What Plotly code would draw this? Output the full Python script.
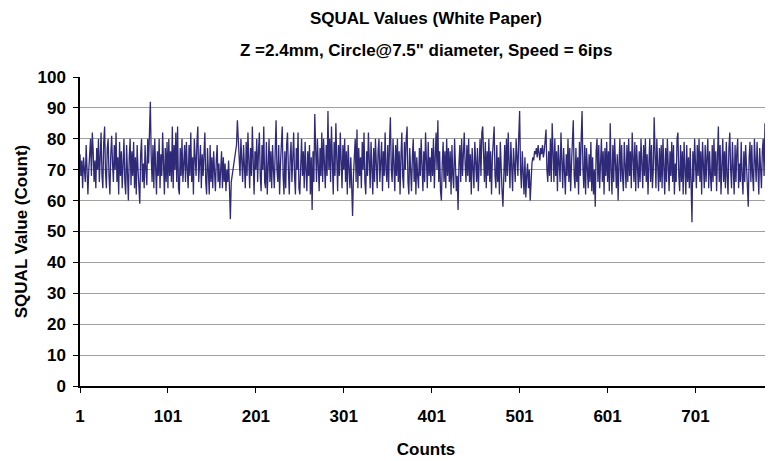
import plotly.graph_objects as go

# SQUAL readings, one per count (row = 20 counts)
squal = [
    75, 68, 73, 64, 74, 70, 66, 78, 72, 62, 70, 74, 80, 68, 82, 76, 66, 73, 64, 77,
    70, 80, 66, 74, 82, 68, 64, 79, 84, 69, 64, 77, 80, 68, 62, 75, 81, 72, 66, 78,
    70, 82, 66, 74, 62, 79, 68, 76, 64, 72, 80, 66, 62, 78, 70, 60, 74, 80, 65, 76,
    68, 79, 64, 74, 62, 78, 70, 63, 59, 75, 80, 66, 72, 64, 78, 70, 65, 80, 72, 82,
    92, 74, 66, 78, 64, 80, 70, 62, 76, 68, 80, 64, 75, 68, 82, 70, 62, 77, 66, 79,
    64, 80, 68, 76, 66, 84, 64, 78, 70, 82, 66, 84, 64, 62, 77, 68, 80, 66, 72, 78,
    66, 79, 70, 64, 78, 68, 82, 66, 74, 62, 80, 70, 68, 79, 84, 66, 72, 78, 64, 75,
    68, 80, 82, 66, 62, 77, 70, 62, 78, 66, 74, 64, 76, 68, 63, 73, 78, 66, 72, 64,
    70, 76, 64, 74, 66, 72, 63, 70, 66, 73, 64, 54, 66, 68, 70, 72, 74, 76, 78, 86,
    78, 74, 68, 80, 72, 66, 78, 70, 64, 79, 68, 82, 72, 64, 77, 68, 84, 70, 62, 76,
    70, 80, 66, 76, 82, 68, 63, 78, 70, 84, 66, 64, 79, 62, 72, 80, 66, 76, 64, 78,
    70, 64, 76, 86, 70, 66, 78, 62, 72, 80, 84, 68, 62, 76, 64, 78, 82, 70, 62, 74,
    79, 66, 74, 82, 68, 62, 77, 70, 82, 64, 62, 74, 80, 68, 76, 64, 79, 70, 63, 76,
    68, 78, 62, 74, 57, 76, 66, 88, 78, 66, 80, 70, 63, 77, 68, 82, 66, 80, 72, 64,
    78, 68, 89, 70, 80, 66, 84, 74, 62, 79, 68, 85, 66, 63, 78, 68, 82, 72, 64, 78,
    70, 80, 66, 76, 62, 78, 68, 64, 74, 66, 55, 68, 76, 80, 66, 83, 64, 77, 68, 74,
    64, 79, 70, 82, 66, 62, 76, 68, 82, 72, 64, 79, 68, 62, 77, 66, 80, 70, 64, 76,
    80, 66, 72, 79, 63, 76, 68, 82, 70, 66, 78, 64, 79, 87, 70, 66, 80, 74, 63, 78,
    68, 80, 66, 76, 62, 74, 82, 68, 64, 79, 70, 80, 84, 66, 62, 77, 68, 63, 74, 80,
    66, 76, 62, 74, 68, 64, 77, 68, 80, 70, 63, 76, 66, 82, 70, 64, 79, 68, 74, 66,
    77, 68, 80, 64, 74, 82, 70, 86, 66, 76, 63, 60, 72, 79, 66, 76, 64, 80, 68, 77,
    66, 76, 62, 78, 68, 64, 80, 70, 63, 68, 57, 72, 78, 66, 80, 68, 79, 82, 72, 66,
    78, 68, 80, 66, 75, 62, 77, 68, 64, 79, 70, 66, 77, 63, 72, 80, 68, 82, 84, 70,
    66, 79, 64, 76, 68, 80, 66, 76, 62, 74, 80, 84, 68, 64, 78, 66, 74, 62, 79, 68,
    63, 58, 72, 78, 66, 80, 68, 82, 72, 64, 79, 68, 63, 77, 70, 66, 80, 72, 68, 81,
    89, 70, 64, 76, 66, 62, 74, 61, 68, 72, 64, 70, 60, 67, 72, 74, 73, 76, 75, 77,
    74, 78, 76, 73, 77, 75, 78, 74, 76, 79, 83, 70, 66, 76, 68, 80, 66, 85, 72, 66,
    80, 68, 76, 63, 78, 70, 66, 82, 68, 64, 77, 66, 62, 75, 68, 80, 66, 77, 63, 72,
    78, 86, 68, 64, 77, 66, 74, 62, 79, 68, 80, 89, 70, 64, 78, 62, 77, 68, 64, 75,
    66, 79, 63, 74, 62, 70, 58, 76, 80, 66, 78, 64, 72, 80, 66, 76, 62, 77, 68, 79,
    66, 76, 63, 85, 70, 62, 78, 66, 80, 68, 64, 75, 60, 72, 80, 66, 78, 68, 63, 79,
    70, 64, 78, 66, 80, 68, 76, 64, 82, 70, 66, 79, 63, 78, 68, 64, 76, 66, 80, 72,
    64, 78, 68, 80, 66, 75, 62, 72, 80, 66, 78, 64, 70, 87, 70, 64, 80, 68, 63, 77,
    66, 78, 64, 80, 68, 62, 77, 66, 80, 70, 63, 76, 68, 79, 66, 78, 62, 72, 66, 80,
    82, 68, 63, 78, 66, 76, 62, 79, 70, 62, 78, 66, 74, 64, 77, 68, 53, 76, 66, 80,
    70, 64, 78, 68, 80, 66, 76, 62, 79, 70, 64, 78, 66, 74, 80, 64, 76, 68, 63, 78,
    66, 80, 68, 76, 63, 74, 84, 66, 78, 62, 72, 80, 66, 76, 64, 79, 68, 62, 77, 82,
    70, 64, 79, 68, 62, 78, 66, 76, 80, 64, 72, 66, 79, 68, 62, 76, 66, 78, 70, 64,
    58, 74, 79, 66, 78, 68, 63, 80, 70, 66, 79, 68, 62, 77, 70, 64, 76, 80, 68, 85,
    72, 64, 78, 66, 75, 62, 79, 70,
]
counts = list(range(1, len(squal) + 1))

x_ticks = [1, 101, 201, 301, 401, 501, 601, 701]
y_ticks = list(range(0, 101, 10))

FONT = "Liberation Sans, Arial, sans-serif"

fig = go.Figure()
fig.add_trace(go.Scatter(
    x=counts, y=squal, mode="lines",
    line=dict(color="#2f2a78", width=1.3),
    showlegend=False,
))

# page body adds an 8px offset, so the figure is 8px smaller than the window
fig.update_layout(
    width=765, height=453,
    margin=dict(l=72, r=1, t=69, b=75),
    plot_bgcolor="white", paper_bgcolor="white",
    font=dict(family=FONT, size=17, color="black"),
    title=dict(
        text="<b>SQUAL Values (White Paper)</b>",
        x=0.5, xref="paper", xanchor="center",
        y=1 - 10 / 453, yref="container", yanchor="middle",
        font=dict(family=FONT, size=17, color="black"),
    ),
)
fig.add_annotation(
    text="<b>Z =2.4mm, Circle@7.5\" diameter, Speed = 6ips</b>",
    xref="paper", yref="paper", x=0.5, y=(378 - 42) / 309,
    xanchor="center", yanchor="middle", showarrow=False,
    font=dict(family=FONT, size=17, color="black"),
)
fig.update_xaxes(
    range=[1, len(squal)], tickvals=x_ticks, ticktext=[f"<b>{v}</b>" for v in x_ticks],
    showgrid=False, showline=True, linecolor="black", linewidth=1.5,
    ticks="outside", ticklen=5, tickcolor="black", ticklabelstandoff=9,
    title=dict(text="<b>Counts</b>", standoff=18, font=dict(size=17)),
)
fig.update_yaxes(
    range=[0, 100], tickvals=y_ticks, ticktext=[f"<b>{v}</b>" for v in y_ticks],
    showgrid=True, gridcolor="#a0a0a0", gridwidth=1,
    showline=True, linecolor="black", linewidth=1.5, zeroline=False,
    ticks="outside", ticklen=5, tickcolor="black", ticklabelstandoff=4,
    title=dict(text="<b>SQUAL Value (Count)</b>", standoff=6, font=dict(size=17)),
)

fig.write_html("out.html")
